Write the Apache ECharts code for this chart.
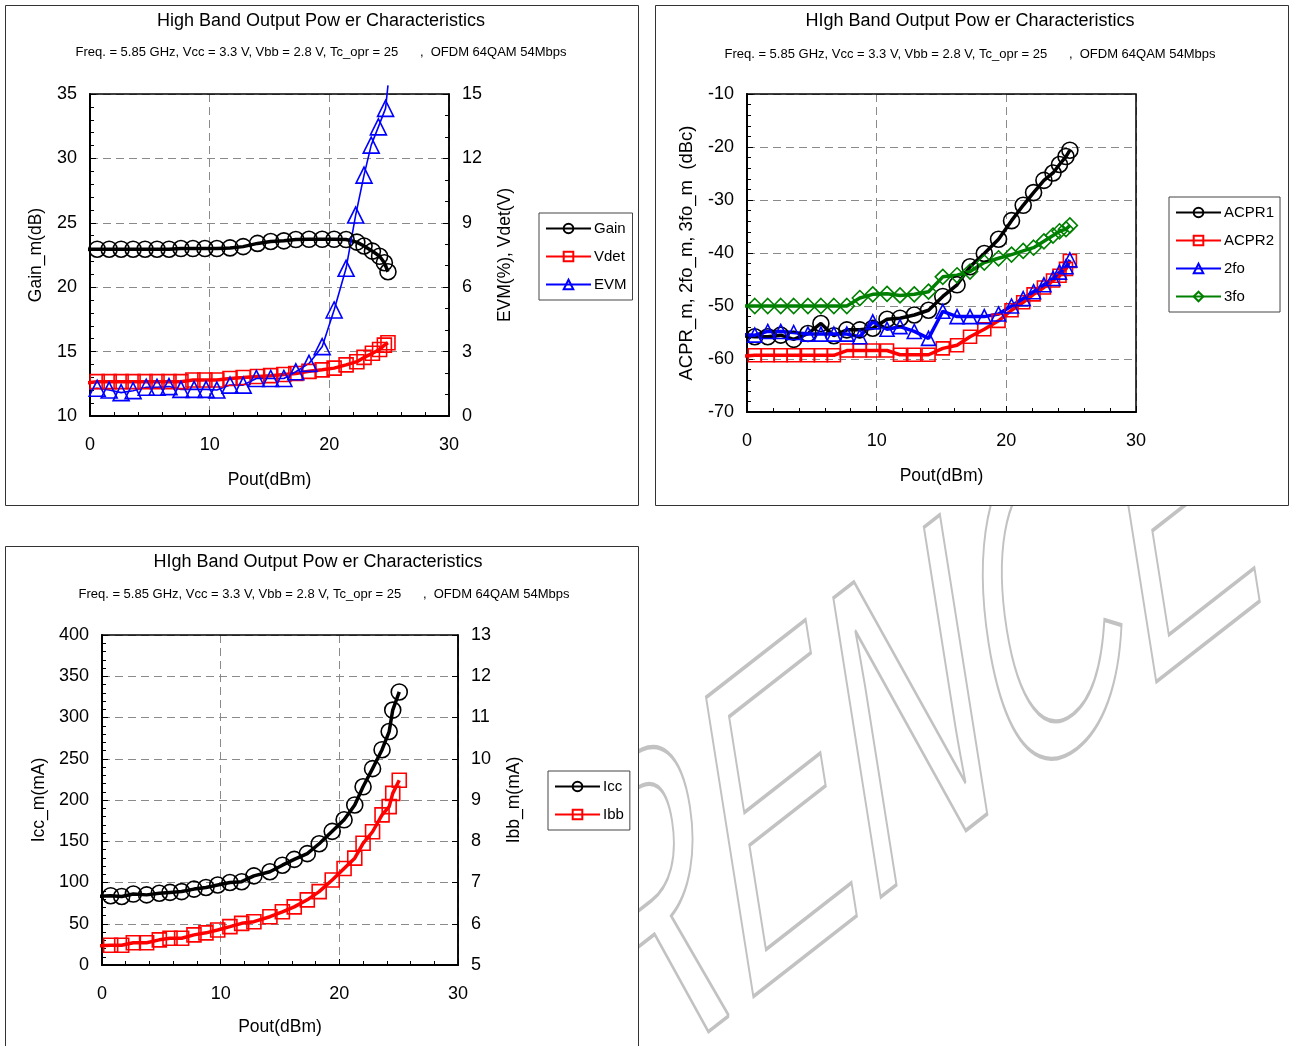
<!DOCTYPE html>
<html><head><meta charset="utf-8">
<script src="https://cdn.jsdelivr.net/npm/echarts@6/dist/echarts.min.js"></script>
<style>html,body{margin:0;padding:0;background:#fff;overflow:hidden}#c{width:1290px;height:1046px}</style>
</head><body><div id="c"></div>
<script>
// ---------- Panel 1: Gain / Vdet / EVM ----------
const p1X = [0.6,1.6,2.6,3.6,4.6,5.6,6.6,7.6,8.6,9.6,10.6,11.7,12.8,14.0,15.1,16.2,17.2,18.3,19.4,20.4,21.4,22.3,22.9,23.6,24.2,24.6,24.9];
const p1Gain = [22.95,22.95,22.95,22.95,22.95,22.95,22.95,23.0,23.0,23.0,23.0,23.05,23.15,23.4,23.55,23.6,23.7,23.72,23.72,23.72,23.7,23.5,23.2,22.8,22.4,21.9,21.2];
const p1GainLead = [-0.7, 22.95];
const p1Vdet = [1.6,1.6,1.6,1.6,1.6,1.6,1.6,1.6,1.68,1.68,1.68,1.75,1.79,1.84,1.88,1.93,1.98,2.08,2.15,2.23,2.38,2.53,2.73,2.92,3.1,3.3,3.41];
const p1VdetLead = [-0.8, 1.5];
const p1EvmX = [0.6,1.6,2.6,3.6,4.7,5.6,6.6,7.6,8.7,9.7,10.6,11.7,12.8,13.9,15.1,16.2,17.2,18.3,19.4,20.4,21.4,22.2,22.9,23.5,24.1,24.7];
const p1Evm = [1.29,1.21,1.09,1.18,1.34,1.34,1.37,1.24,1.24,1.24,1.21,1.44,1.44,1.75,1.75,1.75,2.06,2.45,3.23,4.94,6.88,9.36,11.22,12.62,13.47,14.33];
const p1EvmLead = [-0.8, 1.2];
const p1EvmTail = [24.9, 15.4];

// ---------- Panel 2: ACPR / harmonics ----------
const p2X = [0.6,1.6,2.6,3.6,4.7,5.7,6.7,7.7,8.7,9.7,10.8,11.8,12.9,14.0,15.1,16.2,17.2,18.3,19.4,20.4,21.3,22.1,22.9,23.6,24.1,24.6,24.9];
const p2Acpr1 = [-55.8,-55.8,-55.5,-56.3,-55.2,-53.3,-55.6,-54.5,-54.5,-54.2,-52.5,-52.3,-51.7,-50.8,-48.2,-46.0,-42.6,-40.1,-37.4,-33.9,-31.0,-28.6,-26.3,-24.9,-23.3,-21.8,-20.6];
const p2Acpr1Lead = [-0.6, -55.6];
const p2Acpr2 = [-59.3,-59.3,-59.3,-59.3,-59.3,-59.3,-59.3,-58.4,-58.4,-58.4,-58.4,-59.2,-59.2,-59.2,-58.0,-57.4,-55.8,-54.4,-52.8,-50.8,-49.3,-47.8,-46.5,-45.2,-44.3,-43.0,-41.5];
const p2Acpr2Lead = [-0.6, -59.5];
const p2Fo2 = [-55.5,-54.8,-54.8,-55.0,-55.3,-55.3,-55.3,-55.3,-55.8,-53.0,-54.4,-53.9,-54.8,-56.1,-51.0,-52.0,-52.0,-52.0,-51.5,-50.0,-48.6,-47.3,-46.0,-44.8,-43.6,-42.6,-41.3];
const p2Fo2Lead = [-0.6, -55.4];
const p2Fo3 = [-50,-50,-50,-50,-50,-50,-50,-50,-48.5,-47.8,-47.7,-48.0,-47.8,-47.3,-44.5,-44.2,-43.5,-41.8,-41.0,-40.3,-39.6,-39.0,-37.8,-36.7,-35.9,-35.5,-34.8];
const p2Fo3Lead = [-0.6, -50];

// ---------- Panel 3: Icc / Ibb ----------
const p3X = [0.73,1.66,2.64,3.76,4.83,5.73,6.71,7.75,8.76,9.75,10.78,11.77,12.8,14.15,15.2,16.2,17.3,18.3,19.4,20.4,21.3,22.0,22.8,23.6,24.2,24.5,25.05];
const p3Icc = [84,83,86,85,87,88,89,92,94,97,100,101,108,113,121,128,135,147,162,176,194,216,238,261,283,309,331];
const p3IccLead = [-0.8, 83];
const p3Ibb = [5.48,5.48,5.54,5.54,5.61,5.65,5.65,5.73,5.78,5.85,5.93,6.01,6.05,6.17,6.29,6.41,6.58,6.78,7.06,7.34,7.59,7.95,8.23,8.64,8.84,9.16,9.48];
const p3IbbLead = [-0.5, 5.46];

// ---------- Text ----------
const titleA = 'High Band Output Pow er Characteristics';
const titleB = 'HIgh Band Output Pow er Characteristics';
const subTitle = 'Freq. = 5.85 GHz, Vcc = 3.3 V, Vbb = 2.8 V, Tc_opr = 25      ,  OFDM 64QAM 54Mbps';
const xName = 'Pout(dBm)';
const watermark = 'REFERENCE';
const xTicks = {min: 0, max: 30, interval: 10};

const FF = '"Liberation Sans", Arial, sans-serif';

function build(name, xs, ys, lead, tail, color, width, symbol, size, xi, yi) {
  const data = [];
  if (lead) data.push({value: lead, symbol: 'none'});
  xs.forEach((x, i) => data.push([x, ys[i]]));
  if (tail) data.push({value: tail, symbol: 'none'});
  return {
    type: 'line', name, xAxisIndex: xi, yAxisIndex: yi, data, clip: false,
    symbol, symbolSize: size, showSymbol: true, showAllSymbol: true,
    lineStyle: {color, width}, itemStyle: {color: 'rgba(255,255,255,0)', borderColor: color, borderWidth: 1.6},
    emphasis: {disabled: true}, silent: true, animation: false, z: 3
  };
}

function xAxis(gi, gap) {
  return {
    gridIndex: gi, type: 'value', min: xTicks.min, max: xTicks.max, interval: xTicks.interval,
    axisLine: {show: true, onZero: false, lineStyle: {color: '#000', width: 2}},
    axisTick: {show: true, inside: true, length: 6, lineStyle: {color: '#000', width: 1}},
    minorTick: {show: true, splitNumber: 5, length: 4, lineStyle: {color: '#000', width: 1}},
    axisLabel: {fontSize: 18, color: '#000', margin: 20, fontFamily: FF},
    splitLine: {show: true, lineStyle: {color: '#8a8a8a', type: [8, 5], width: 1}},
    name: xName, nameLocation: 'middle', nameGap: gap,
    nameTextStyle: {fontSize: 17.5, color: '#000', fontFamily: FF}
  };
}
function yAxis(gi, pos, min, max, interval, minor, name, gap, split, nfs) {
  return {
    gridIndex: gi, type: 'value', position: pos, min, max, interval,
    axisLine: {show: true, onZero: false, lineStyle: {color: '#000', width: pos === 'left' ? 2 : 1.5}},
    axisTick: {show: true, inside: true, length: 6, lineStyle: {color: '#000', width: 1}},
    minorTick: {show: minor > 0, splitNumber: minor || 5, length: 4, lineStyle: {color: '#000', width: 1}},
    axisLabel: {fontSize: 18, color: '#000', margin: 13, fontFamily: FF},
    splitLine: {show: split, lineStyle: {color: '#8a8a8a', type: [8, 5], width: 1}},
    name, nameLocation: 'middle', nameGap: gap, nameRotate: 90,
    nameTextStyle: {fontSize: nfs || 17.5, color: '#000', fontFamily: FF}
  };
}
function legend(names, left, top, gap) {
  return {
    data: names, orient: 'vertical', left, top, itemWidth: 45, itemHeight: 12, itemGap: gap,
    padding: [8, 6, 8, 6], borderColor: '#444', borderWidth: 1, backgroundColor: '#fff',
    textStyle: {fontSize: 15, color: '#000', fontFamily: FF, padding: [0, 0, 0, -2]}, selectedMode: false
  };
}
function txt(text, x, y, size) {
  return {type: 'text', x, y, z: 10, silent: true,
    style: {text, font: size + 'px ' + FF, fill: '#000', textAlign: 'center', align: 'center',
      textVerticalAlign: 'middle', verticalAlign: 'middle'}};
}
function box(x, y, w, h) {
  return {type: 'rect', z: -5, silent: true, shape: {x, y, width: w, height: h},
    style: {fill: '#fff', stroke: '#333', lineWidth: 1}};
}

// Watermark: outlined text, sheared so letters stand nearly upright on a rising baseline
const wm = {
  type: 'group', x: 72, y: 1394, rotation: 0.0085, z: -10, silent: true,
  children: [{
    type: 'group', scaleX: 0.676, scaleY: 1.532, z: -10, silent: true,
    children: [{
      type: 'text', rotation: 0.3265, z: -10, silent: true,
      style: {text: watermark, font: '300px ' + FF, fill: 'rgba(0,0,0,0)', stroke: '#c2c2c2', lineWidth: 2.8,
        strokeNoScale: true, textAlign: 'left', align: 'left', textVerticalAlign: 'middle', verticalAlign: 'middle'}
    }]
  }]
};

const chart = echarts.init(document.getElementById('c'), null, {renderer: 'canvas'});
chart.setOption({
  animation: false,
  backgroundColor: '#fff',
  grid: [
    {left: 90, top: 94, width: 359, height: 322, show: true, borderColor: '#000', borderWidth: 1.5, backgroundColor: 'transparent', z: 1},
    {left: 747, top: 94, width: 389, height: 318, show: true, borderColor: '#000', borderWidth: 1.5, backgroundColor: 'transparent', z: 1},
    {left: 102, top: 635, width: 356, height: 330, show: true, borderColor: '#000', borderWidth: 1.5, backgroundColor: 'transparent', z: 1}
  ],
  xAxis: [xAxis(0, 55), xAxis(1, 55), xAxis(2, 53)],
  yAxis: [
    yAxis(0, 'left', 10, 35, 5, 5, 'Gain_m(dB)', 45, true),
    yAxis(0, 'right', 0, 15, 3, 3, 'EVM(%), Vdet(V)', 47, false),
    yAxis(1, 'left', -70, -10, 10, 5, 'ACPR_m, 2fo_m, 3fo_m  (dBc)', 51, true, 18.5),
    yAxis(2, 'left', 0, 400, 50, 5, 'Icc_m(mA)', 54, true),
    yAxis(2, 'right', 5, 13, 1, 0, 'Ibb_m(mA)', 47, false)
  ],
  legend: [
    legend(['Gain', 'Vdet', 'EVM'], 539, 213, 13),
    legend(['ACPR1', 'ACPR2', '2fo', '3fo'], 1169, 197, 13),
    legend(['Icc', 'Ibb'], 548, 771, 13)
  ],
  series: [
    build('Gain', p1X, p1Gain, p1GainLead, null, '#000000', 3.5, 'circle', 16, 0, 0),
    build('Vdet', p1X, p1Vdet, p1VdetLead, null, '#ff0000', 3.5, 'rect', 14, 0, 1),
    build('EVM', p1EvmX, p1Evm, p1EvmLead, p1EvmTail, '#0000ff', 1.6, 'triangle', 16, 0, 1),
    build('ACPR1', p2X, p2Acpr1, p2Acpr1Lead, null, '#000000', 3.5, 'circle', 16, 1, 2),
    build('ACPR2', p2X, p2Acpr2, p2Acpr2Lead, null, '#ff0000', 3.5, 'rect', 13, 1, 2),
    build('2fo', p2X, p2Fo2, p2Fo2Lead, null, '#0000ff', 3.5, 'triangle', 14, 1, 2),
    build('3fo', p2X, p2Fo3, p2Fo3Lead, null, '#008000', 3.5, 'diamond', 15, 1, 2),
    build('Icc', p3X, p3Icc, p3IccLead, null, '#000000', 3.5, 'circle', 16, 2, 3),
    build('Ibb', p3X, p3Ibb, p3IbbLead, null, '#ff0000', 3.5, 'rect', 14, 2, 4)
  ],
  graphic: [
    wm,
    box(5.5, 5.5, 633, 500),
    box(655.5, 5.5, 633, 500),
    box(5.5, 546.5, 633, 520),
    txt(titleA, 321, 21, 18),
    txt(subTitle, 321, 52, 13),
    txt(titleB, 970, 21, 18),
    txt(subTitle, 970, 54, 13),
    txt(titleB, 318, 562, 18),
    txt(subTitle, 324, 594, 13)
  ]
});
</script></body></html>
